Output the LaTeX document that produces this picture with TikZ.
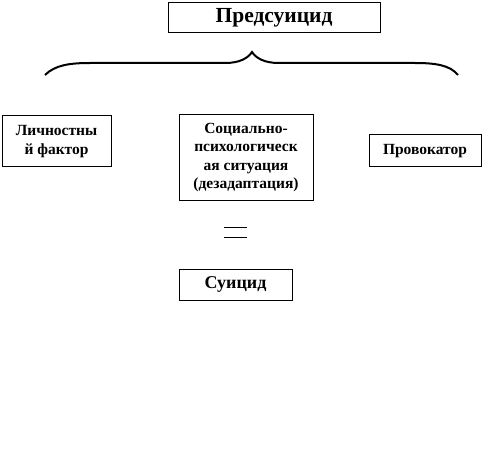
\documentclass[tikz,border=0pt]{standalone}
\usepackage{fontspec}
\setmainfont{Liberation Serif}
\begin{document}
\begin{tikzpicture}[x=1pt,y=-1pt,
  box/.style={draw,line width=1pt,inner sep=0pt,font=\bfseries\fontsize{15.5}{18.5}\selectfont,align=center}]
\useasboundingbox (0,0) rectangle (482,468);
\node[box,minimum width=212pt,minimum height=30pt,font=\bfseries\fontsize{21.5}{24}\selectfont] (pre) at (274,17.5) {Предсуицид};
\draw[line width=2pt] (45,75) .. controls (55,65) and (70,63) .. (90,63) -- (225,63) .. controls (240,63) and (248,58) .. (252,52)
  .. controls (256,58) and (264,63) .. (279,63) -- (415,63) .. controls (435,63) and (450,65) .. (458,75);
\node[box,minimum width=109pt,minimum height=51pt] (lf) at (56.5,141.5) {Личностны\\й фактор};
\node[box,minimum width=134pt,minimum height=85pt] (sp) at (246,157.5) {Социально-\\психологическ\\ая ситуация\\(дезадаптация)};
\node[box,minimum width=112pt,minimum height=32pt] (pr) at (425,151) {Провокатор};
\coordinate (e1) at (224,227); \coordinate (e2) at (247,227);
\coordinate (e3) at (224,237); \coordinate (e4) at (247,237);
\draw[line width=1pt] (e1) -- (e2) (e3) -- (e4);
\node[box,minimum width=113pt,minimum height=31pt,font=\bfseries\fontsize{18}{20}\selectfont] (su) at (235.5,284.5) {Суицид};
\end{tikzpicture}
\end{document}
